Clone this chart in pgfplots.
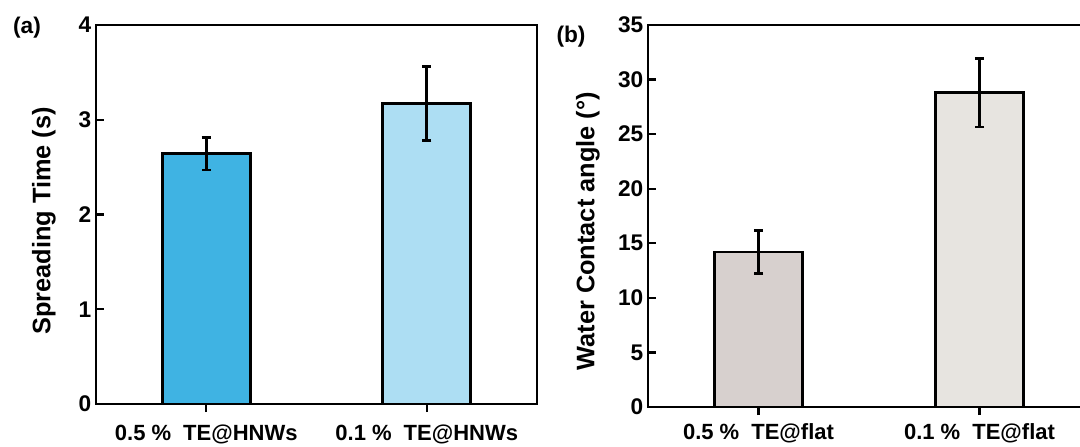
\documentclass[border=0pt]{standalone}
\usepackage{pgfplots}
\pgfplotsset{compat=1.18}
\usepackage{fontspec}
\setmainfont{Liberation Sans}

\definecolor{blueA}{HTML}{3FB3E3}
\definecolor{blueB}{HTML}{ADDEF3}
\definecolor{greyA}{HTML}{D7D0CE}
\definecolor{greyB}{HTML}{E7E4E0}

\pgfplotsset{
  panel/.style={
    scale only axis,
    axis line style={line width=2.2pt},
    xmin=-0.5, xmax=1.5, ymin=0,
    xtick={0,1},
    tick align=inside,
    xtick pos=bottom, ytick pos=left,
    major tick length=6pt,
    tick style={line width=1.8pt, black},
    minor tick num=0,
    /pgf/number format/assume math mode=true,
    ticklabel style={font=\fontsize{17}{17}\selectfont\bfseries},
    xticklabel style={font=\fontsize{16.5}{16.5}\selectfont\bfseries},
    ybar, bar width=0.4,
  },
  errbar/.style={
    draw=black, line width=2.2pt, bar shift=0pt,
    error bars/.cd, y dir=both, y explicit,
    error bar style={line width=2pt, black},
    error mark options={rotate=90, mark size=3.4pt, line width=2pt, black},
  },
}

\begin{document}
\begin{tikzpicture}
\path[use as bounding box] (0,0) rectangle (810pt,334.5pt);

% (a) spreading time on the nanowire coatings
\begin{axis}[panel,
  at={(72pt,31.5pt)}, anchor=south west,
  width=330.75pt, height=284.25pt,
  ymax=4, ytick={0,1,2,3,4},
  xticklabel style={yshift=-6pt},
  xticklabels={0.5 \%\hspace{0.55em}TE@HNWs, 0.1 \%\hspace{0.55em}TE@HNWs},
  ylabel={Spreading Time (s)},
  every axis y label/.style={at={(axis description cs:-0.118,0.483)}, rotate=90, anchor=center,
    font=\fontsize{19}{19}\selectfont\bfseries},
]
\addplot[fill=blueA, errbar] coordinates {(0,2.64) +- (0,0.17)};
\addplot[fill=blueB, errbar] coordinates {(1,3.17) +- (0,0.39)};
\end{axis}

% (b) water contact angle on the flat coatings
\begin{axis}[panel,
  at={(486pt,29.25pt)}, anchor=south west,
  width=331.5pt, height=286.5pt,
  ymax=35, ytick={0,5,10,15,20,25,30,35},
  xticklabel style={yshift=-3pt},
  xticklabels={0.5 \%\hspace{0.55em}TE@flat, 0.1 \%\hspace{0.55em}TE@flat},
  ylabel={Water Contact angle (°)},
  every axis y label/.style={at={(axis description cs:-0.136,0.46)}, rotate=90, anchor=center,
    font=\fontsize{19}{19}\selectfont\bfseries},
]
\addplot[fill=greyA, errbar] coordinates {(0,14.2) +- (0,1.95)};
\addplot[fill=greyB, errbar] coordinates {(1,28.8) +- (0,3.15)};
\end{axis}

\node[font=\fontsize{17}{17}\selectfont\bfseries] at (20.25pt,313.5pt) {(a)};
\node[font=\fontsize{17}{17}\selectfont\bfseries] at (428.25pt,306.75pt) {(b)};
\end{tikzpicture}
\end{document}
